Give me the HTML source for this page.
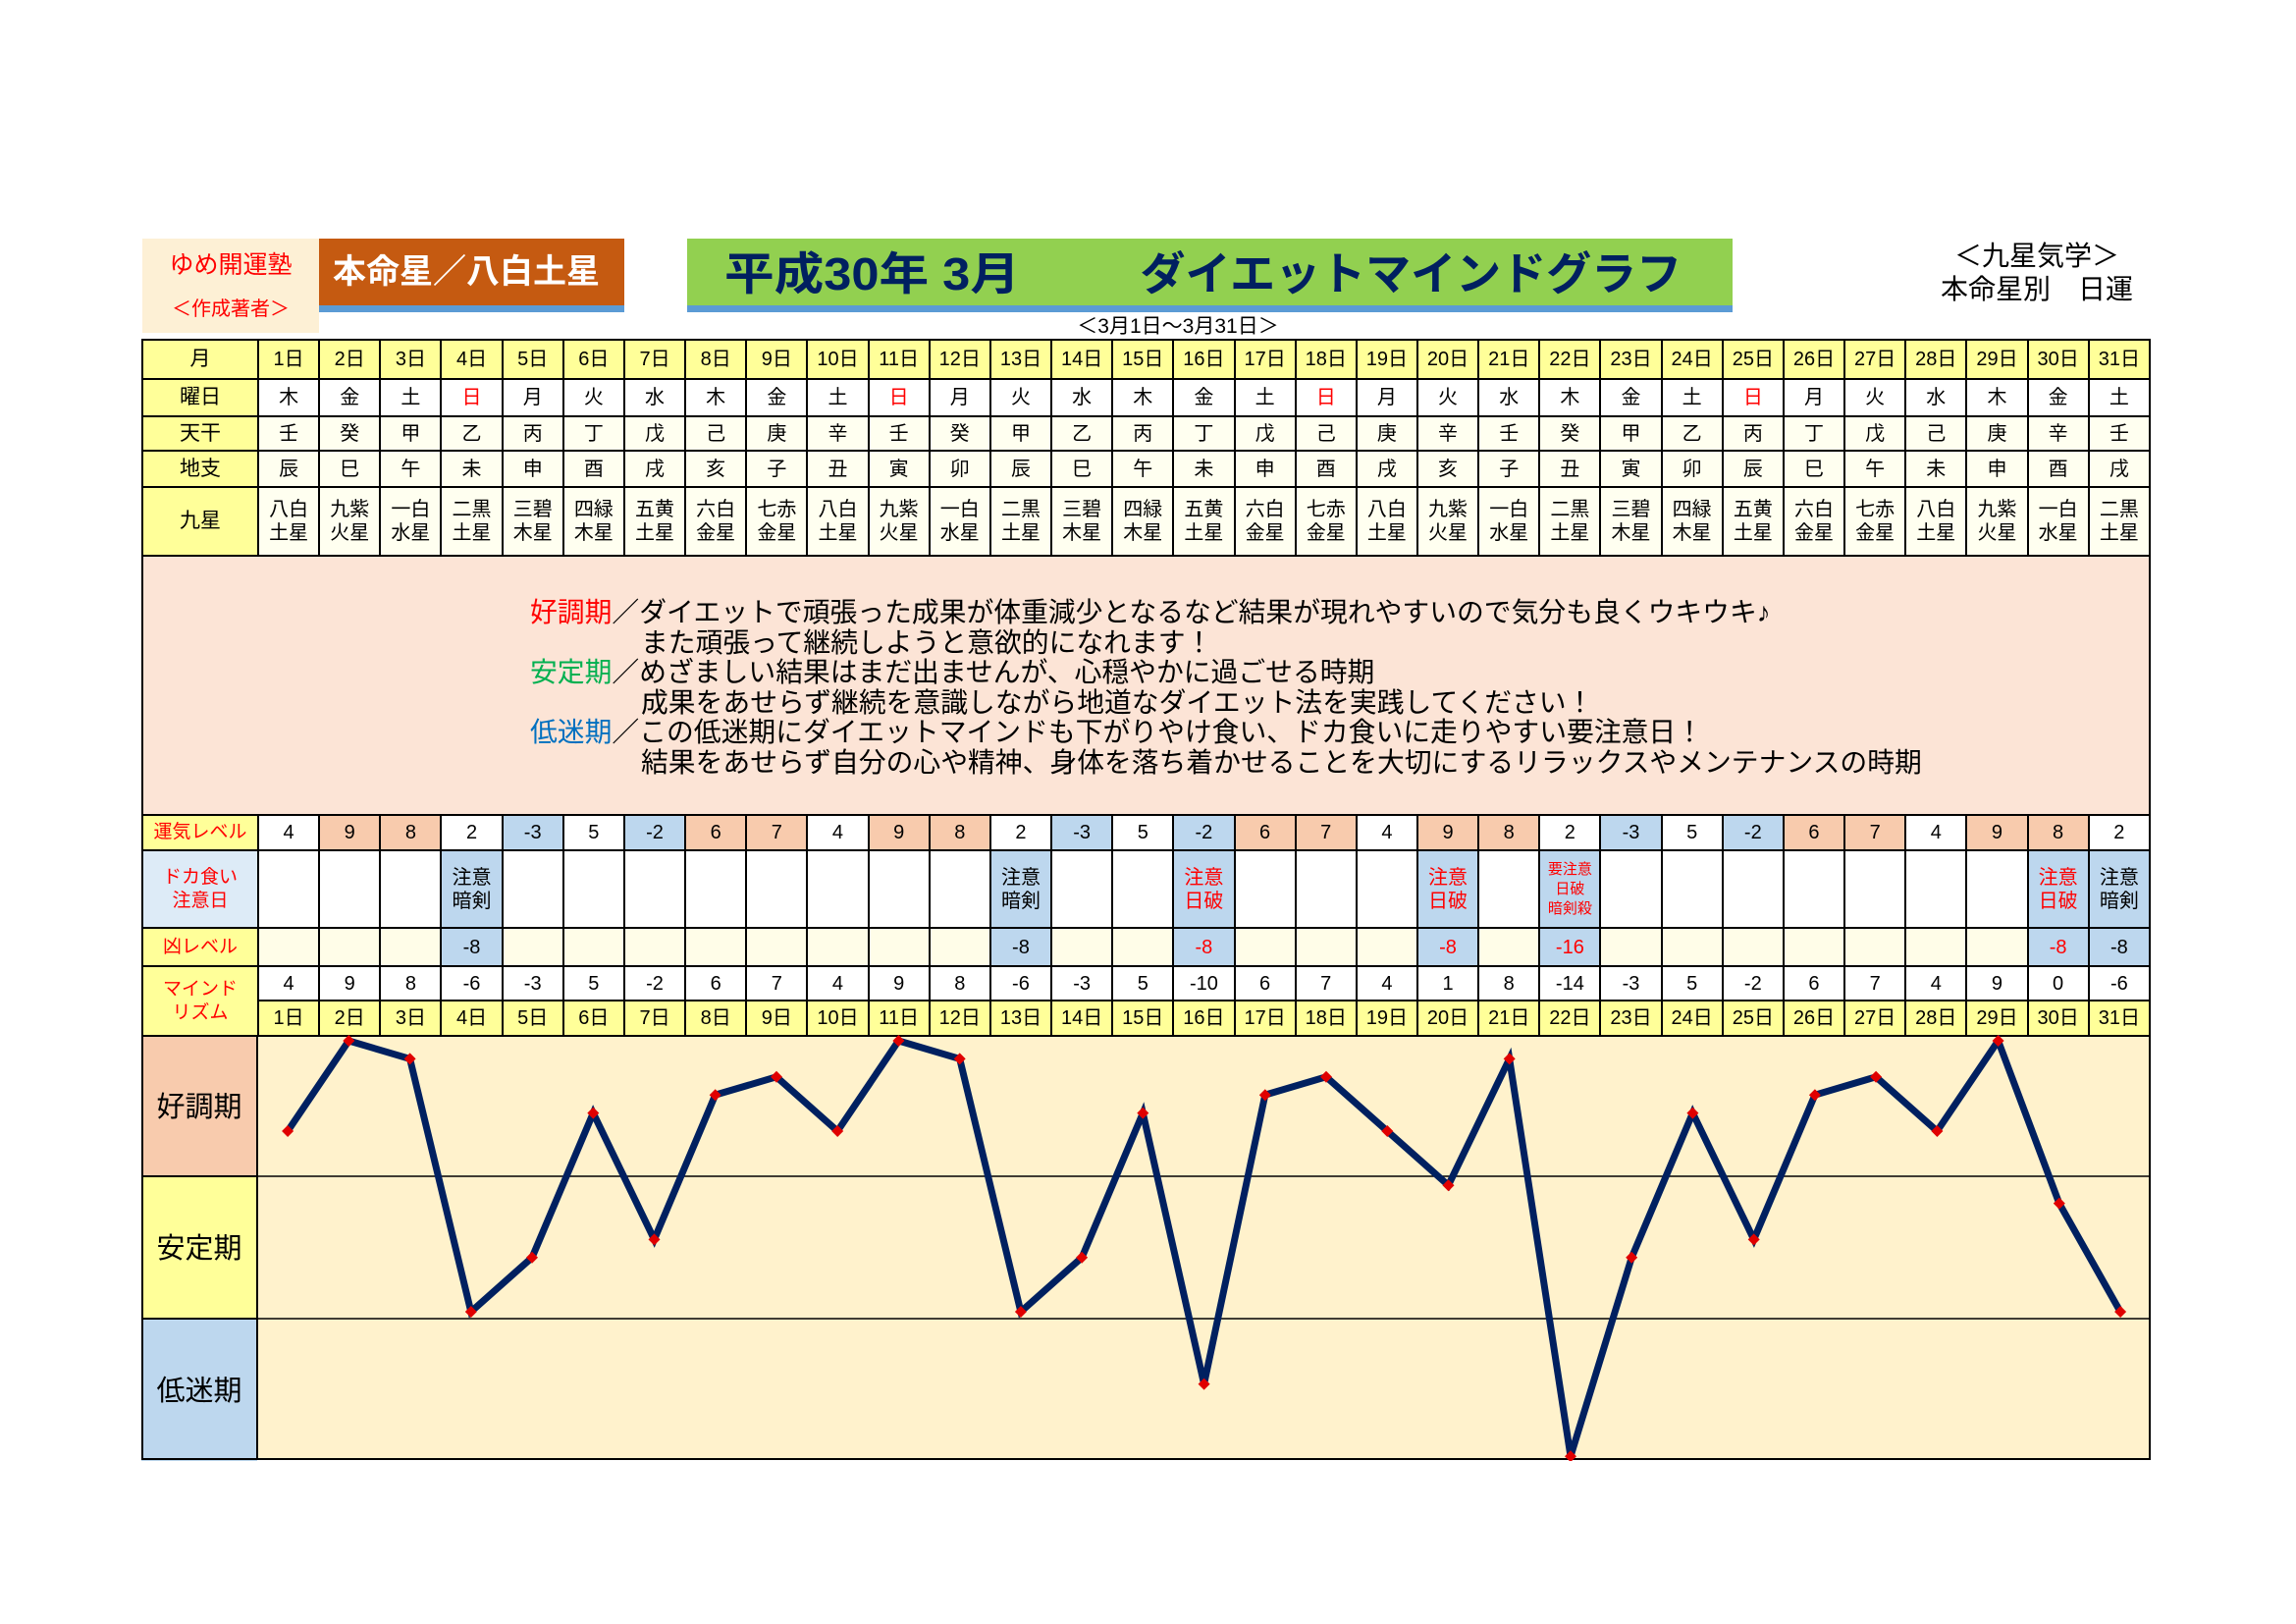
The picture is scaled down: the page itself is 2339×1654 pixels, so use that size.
<!DOCTYPE html>
<html><head><meta charset="utf-8">
<style>
body{margin:0;width:2339px;height:1654px;background:#fff;position:relative;overflow:hidden;font-family:"Liberation Sans","Noto Sans CJK JP",sans-serif;}
.abs{position:absolute;}
table{position:absolute;left:144px;top:345px;width:2047px;border-collapse:collapse;table-layout:fixed;}
td{border:2px solid #000;text-align:center;padding:0;font-size:20px;line-height:24px;}
.L{background:#ffff99;font-size:21px;}
.y{background:#ffff99;}
.w{background:#fff;}
.c{background:#fffff0;}
.o{background:#f8cbad;}
.b{background:#bdd7ee;}
.p{background:#fffde8;}
.r{color:#f00;}
.desc{background:#fce4d6;text-align:left;vertical-align:top;font-size:27.8px;line-height:30.5px;padding:42px 0 0 394px;}
.ind{padding-left:113px;}
</style></head><body>
<div class="abs" style="left:145px;top:243px;width:180px;height:96px;background:#fdf0d5;"></div>
<div class="abs" style="left:145px;top:250px;width:180px;text-align:center;color:#f00;font-size:25px;">ゆめ開運塾</div>
<div class="abs" style="left:145px;top:298px;width:180px;text-align:center;color:#f00;font-size:20px;">＜作成著者＞</div>
<div class="abs" style="left:325px;top:243px;width:311px;height:68px;background:#c55a11;border-bottom:7px solid #5b9bd5;color:#fff;font-size:34px;font-weight:bold;line-height:68px;text-indent:14px;">本命星／八白土星</div>
<div class="abs" style="left:700px;top:243px;width:1065px;height:68px;background:#92d050;border-bottom:7px solid #5b9bd5;color:#002060;font-size:46px;font-weight:bold;line-height:72px;white-space:nowrap;"><span style="margin-left:38px;display:inline-block;transform:scaleX(1.1);transform-origin:left">平成30年 3月</span><span style="margin-left:150px;display:inline-block;">ダイエットマインドグラフ</span></div>
<div class="abs" style="left:1080px;top:316px;width:240px;text-align:center;font-size:21px;">＜3月1日～3月31日＞</div>
<div class="abs" style="left:1955px;top:244px;width:240px;text-align:center;font-size:28px;line-height:34px;">＜九星気学＞<br>本命星別　日運</div>

<table>
<colgroup><col style="width:118px"><col span="31"></colgroup>
<tr style="height:40px"><td class="L">月</td><td class="y">1日</td><td class="y">2日</td><td class="y">3日</td><td class="y">4日</td><td class="y">5日</td><td class="y">6日</td><td class="y">7日</td><td class="y">8日</td><td class="y">9日</td><td class="y">10日</td><td class="y">11日</td><td class="y">12日</td><td class="y">13日</td><td class="y">14日</td><td class="y">15日</td><td class="y">16日</td><td class="y">17日</td><td class="y">18日</td><td class="y">19日</td><td class="y">20日</td><td class="y">21日</td><td class="y">22日</td><td class="y">23日</td><td class="y">24日</td><td class="y">25日</td><td class="y">26日</td><td class="y">27日</td><td class="y">28日</td><td class="y">29日</td><td class="y">30日</td><td class="y">31日</td></tr>
<tr style="height:38px"><td class="L">曜日</td><td>木</td><td>金</td><td>土</td><td class="r">日</td><td>月</td><td>火</td><td>水</td><td>木</td><td>金</td><td>土</td><td class="r">日</td><td>月</td><td>火</td><td>水</td><td>木</td><td>金</td><td>土</td><td class="r">日</td><td>月</td><td>火</td><td>水</td><td>木</td><td>金</td><td>土</td><td class="r">日</td><td>月</td><td>火</td><td>水</td><td>木</td><td>金</td><td>土</td></tr>
<tr style="height:35px" class="c"><td class="L">天干</td><td>壬</td><td>癸</td><td>甲</td><td>乙</td><td>丙</td><td>丁</td><td>戊</td><td>己</td><td>庚</td><td>辛</td><td>壬</td><td>癸</td><td>甲</td><td>乙</td><td>丙</td><td>丁</td><td>戊</td><td>己</td><td>庚</td><td>辛</td><td>壬</td><td>癸</td><td>甲</td><td>乙</td><td>丙</td><td>丁</td><td>戊</td><td>己</td><td>庚</td><td>辛</td><td>壬</td></tr>
<tr style="height:37px" class="c"><td class="L">地支</td><td>辰</td><td>巳</td><td>午</td><td>未</td><td>申</td><td>酉</td><td>戌</td><td>亥</td><td>子</td><td>丑</td><td>寅</td><td>卯</td><td>辰</td><td>巳</td><td>午</td><td>未</td><td>申</td><td>酉</td><td>戌</td><td>亥</td><td>子</td><td>丑</td><td>寅</td><td>卯</td><td>辰</td><td>巳</td><td>午</td><td>未</td><td>申</td><td>酉</td><td>戌</td></tr>
<tr style="height:70px" class="c"><td class="L">九星</td><td>八白<br>土星</td><td>九紫<br>火星</td><td>一白<br>水星</td><td>二黒<br>土星</td><td>三碧<br>木星</td><td>四緑<br>木星</td><td>五黄<br>土星</td><td>六白<br>金星</td><td>七赤<br>金星</td><td>八白<br>土星</td><td>九紫<br>火星</td><td>一白<br>水星</td><td>二黒<br>土星</td><td>三碧<br>木星</td><td>四緑<br>木星</td><td>五黄<br>土星</td><td>六白<br>金星</td><td>七赤<br>金星</td><td>八白<br>土星</td><td>九紫<br>火星</td><td>一白<br>水星</td><td>二黒<br>土星</td><td>三碧<br>木星</td><td>四緑<br>木星</td><td>五黄<br>土星</td><td>六白<br>金星</td><td>七赤<br>金星</td><td>八白<br>土星</td><td>九紫<br>火星</td><td>一白<br>水星</td><td>二黒<br>土星</td></tr>
<tr style="height:264px"><td colspan="32" class="desc"><span style="color:#f00">好調期</span>／ダイエットで頑張った成果が体重減少となるなど結果が現れやすいので気分も良くウキウキ♪<br><span class="ind">また頑張って継続しようと意欲的になれます！</span><br><span style="color:#00b050">安定期</span>／めざましい結果はまだ出ませんが、心穏やかに過ごせる時期<br><span class="ind">成果をあせらず継続を意識しながら地道なダイエット法を実践してください！</span><br><span style="color:#0070c0">低迷期</span>／この低迷期にダイエットマインドも下がりやけ食い、ドカ食いに走りやすい要注意日！<br><span class="ind">結果をあせらず自分の心や精神、身体を落ち着かせることを大切にするリラックスやメンテナンスの時期</span></td></tr>
<tr style="height:36px"><td class="L r" style="font-size:19px">運気レベル</td><td>4</td><td class="o">9</td><td class="o">8</td><td>2</td><td class="b">-3</td><td>5</td><td class="b">-2</td><td class="o">6</td><td class="o">7</td><td>4</td><td class="o">9</td><td class="o">8</td><td>2</td><td class="b">-3</td><td>5</td><td class="b">-2</td><td class="o">6</td><td class="o">7</td><td>4</td><td class="o">9</td><td class="o">8</td><td>2</td><td class="b">-3</td><td>5</td><td class="b">-2</td><td class="o">6</td><td class="o">7</td><td>4</td><td class="o">9</td><td class="o">8</td><td>2</td></tr>
<tr style="height:79px"><td class="r" style="background:#ddebf7;font-size:19px">ドカ食い<br>注意日</td><td></td><td></td><td></td><td class="b">注意<br>暗剣</td><td></td><td></td><td></td><td></td><td></td><td></td><td></td><td></td><td class="b">注意<br>暗剣</td><td></td><td></td><td class="b r">注意<br>日破</td><td></td><td></td><td></td><td class="b r">注意<br>日破</td><td></td><td class="b r" style="font-size:15px;line-height:20px">要注意<br>日破<br>暗剣殺</td><td></td><td></td><td></td><td></td><td></td><td></td><td></td><td class="b r">注意<br>日破</td><td class="b">注意<br>暗剣</td></tr>
<tr style="height:39px" class="p"><td class="L r" style="font-size:19px">凶レベル</td><td></td><td></td><td></td><td class="b">-8</td><td></td><td></td><td></td><td></td><td></td><td></td><td></td><td></td><td class="b">-8</td><td></td><td></td><td class="b r">-8</td><td></td><td></td><td></td><td class="b r">-8</td><td></td><td class="b r">-16</td><td></td><td></td><td></td><td></td><td></td><td></td><td></td><td class="b r">-8</td><td class="b">-8</td></tr>
<tr style="height:35px"><td class="L r" rowspan="2" style="font-size:19px">マインド<br>リズム</td><td>4</td><td>9</td><td>8</td><td>-6</td><td>-3</td><td>5</td><td>-2</td><td>6</td><td>7</td><td>4</td><td>9</td><td>8</td><td>-6</td><td>-3</td><td>5</td><td>-10</td><td>6</td><td>7</td><td>4</td><td>1</td><td>8</td><td>-14</td><td>-3</td><td>5</td><td>-2</td><td>6</td><td>7</td><td>4</td><td>9</td><td>0</td><td>-6</td></tr>
<tr style="height:36px" class="y"><td>1日</td><td>2日</td><td>3日</td><td>4日</td><td>5日</td><td>6日</td><td>7日</td><td>8日</td><td>9日</td><td>10日</td><td>11日</td><td>12日</td><td>13日</td><td>14日</td><td>15日</td><td>16日</td><td>17日</td><td>18日</td><td>19日</td><td>20日</td><td>21日</td><td>22日</td><td>23日</td><td>24日</td><td>25日</td><td>26日</td><td>27日</td><td>28日</td><td>29日</td><td>30日</td><td>31日</td></tr>
</table>

<svg class="abs" style="left:144px;top:1054px" width="2048" height="434" viewBox="0 0 2048 434">
<rect x="0" y="0" width="118" height="144" fill="#f8cbad"/>
<rect x="0" y="144" width="118" height="145" fill="#ffff99"/>
<rect x="0" y="289" width="118" height="145" fill="#bdd7ee"/>
<rect x="118" y="0" width="1929" height="433" fill="#fff2cc"/>
<line x1="118" y1="144" x2="2047" y2="144" stroke="#000" stroke-width="1.5"/>
<line x1="118" y1="289" x2="2047" y2="289" stroke="#000" stroke-width="1.5"/>
<line x1="0" y1="144" x2="118" y2="144" stroke="#000" stroke-width="2"/>
<line x1="0" y1="289" x2="118" y2="289" stroke="#000" stroke-width="2"/>
<rect x="1" y="1" width="2045" height="431" fill="none" stroke="#000" stroke-width="2"/>
<line x1="118" y1="0" x2="118" y2="433" stroke="#000" stroke-width="2"/>
<g font-family="Liberation Sans, Noto Sans CJK JP, sans-serif" font-size="29" text-anchor="middle">
<text x="59" y="83">好調期</text><text x="59" y="227">安定期</text><text x="59" y="372">低迷期</text>
</g>
<g transform="translate(0,1)">
<polyline fill="none" stroke="#002060" stroke-width="7" stroke-linejoin="miter" points="149.1,97 211.3,5 273.6,23.4 335.8,281 398,225.8 460.3,78.6 522.5,207.4 584.7,60.2 647,41.8 709.2,97 771.4,5 833.7,23.4 895.9,281 958.1,225.8 1020.3,78.6 1082.6,354.6 1144.8,60.2 1207,41.8 1269.3,97 1331.5,152.2 1393.7,23.4 1456,428.2 1518.2,225.8 1580.4,78.6 1642.7,207.4 1704.9,60.2 1767.1,41.8 1829.4,97 1891.6,5 1953.8,170.6 2016.1,281"/>
<g fill="#e00000">
<path d="M149.1 91l6 6-6 6-6-6z"/><path d="M211.3 -1l6 6-6 6-6-6z"/><path d="M273.6 17.4l6 6-6 6-6-6z"/><path d="M335.8 275l6 6-6 6-6-6z"/><path d="M398 219.8l6 6-6 6-6-6z"/><path d="M460.3 72.6l6 6-6 6-6-6z"/><path d="M522.5 201.4l6 6-6 6-6-6z"/><path d="M584.7 54.2l6 6-6 6-6-6z"/><path d="M647 35.8l6 6-6 6-6-6z"/><path d="M709.2 91l6 6-6 6-6-6z"/><path d="M771.4 -1l6 6-6 6-6-6z"/><path d="M833.7 17.4l6 6-6 6-6-6z"/><path d="M895.9 275l6 6-6 6-6-6z"/><path d="M958.1 219.8l6 6-6 6-6-6z"/><path d="M1020.3 72.6l6 6-6 6-6-6z"/><path d="M1082.6 348.6l6 6-6 6-6-6z"/><path d="M1144.8 54.2l6 6-6 6-6-6z"/><path d="M1207 35.8l6 6-6 6-6-6z"/><path d="M1269.3 91l6 6-6 6-6-6z"/><path d="M1331.5 146.2l6 6-6 6-6-6z"/><path d="M1393.7 17.4l6 6-6 6-6-6z"/><path d="M1456 422.2l6 6-6 6-6-6z"/><path d="M1518.2 219.8l6 6-6 6-6-6z"/><path d="M1580.4 72.6l6 6-6 6-6-6z"/><path d="M1642.7 201.4l6 6-6 6-6-6z"/><path d="M1704.9 54.2l6 6-6 6-6-6z"/><path d="M1767.1 35.8l6 6-6 6-6-6z"/><path d="M1829.4 91l6 6-6 6-6-6z"/><path d="M1891.6 -1l6 6-6 6-6-6z"/><path d="M1953.8 164.6l6 6-6 6-6-6z"/><path d="M2016.1 275l6 6-6 6-6-6z"/>
</g>
</g>
</svg>
</body></html>
